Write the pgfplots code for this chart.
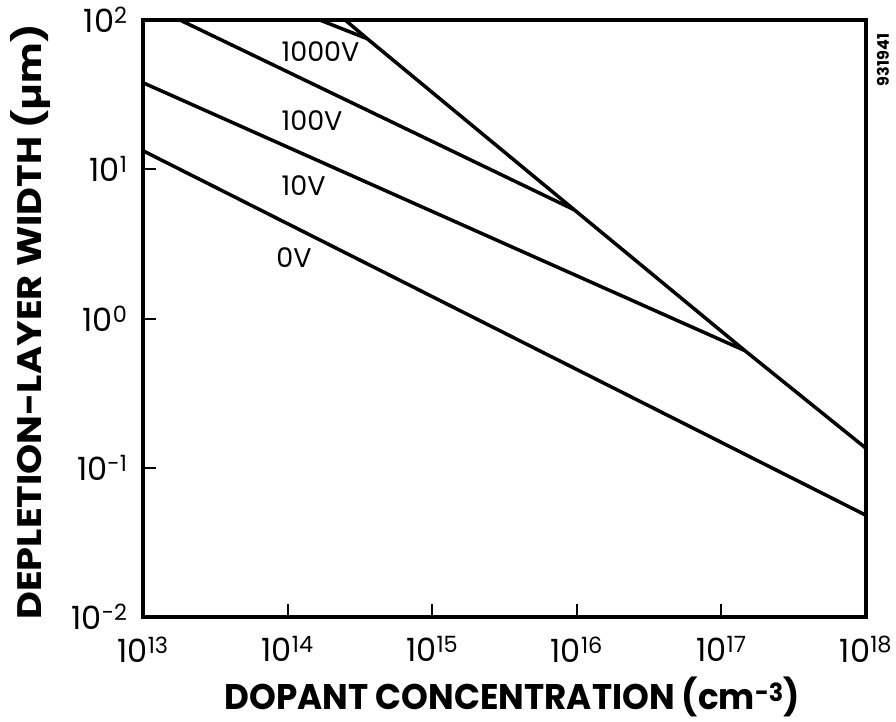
\documentclass[border=0pt]{standalone}
\usepackage{fontspec}
\setmainfont{Poppins}
\usepackage{pgfplots}
\pgfplotsset{compat=1.18}
\begin{document}
\begin{tikzpicture}
\useasboundingbox (-143pt,-104pt) rectangle (753pt,617pt);
\begin{axis}[
  at={(0pt,0pt)}, anchor=south west,
  scale only axis, width=723pt, height=597pt,
  xmode=log, ymode=log,
  xmin=1e13, xmax=1e18, ymin=1e-2, ymax=1e2,
  xtick={1e13,1e14,1e15,1e16,1e17,1e18},
  xticklabels={10\textsuperscript{13},10\textsuperscript{14},10\textsuperscript{15},10\textsuperscript{16},10\textsuperscript{17},10\textsuperscript{18}},
  ytick={1e-2,1e-1,1e0,1e1,1e2},
  yticklabels={10\textsuperscript{-2},10\textsuperscript{-1},10\textsuperscript{0},10\textsuperscript{1},10\textsuperscript{2}},
  xminorticks=false, yminorticks=false,
  tick align=inside, xtick pos=bottom, ytick pos=left,
  major tick length=13pt,
  tick style={line width=2pt, black},
  axis line style={line width=4pt},
  xticklabel style={font=\fontsize{32}{32}\selectfont, yshift=-16pt},
  yticklabel style={font=\fontsize{32}{32}\selectfont, xshift=-12pt},
  clip mode=individual,
]
% 0V
\addplot[black, no marks, line width=3.5pt] coordinates {(1e13,13.3) (1e18,0.0480)};
% 10V
\addplot[black, no marks, line width=3.5pt] coordinates {(1e13,38) (1.45e17,0.61)};
% 100V
\addplot[black, no marks, line width=3.5pt] coordinates {(1.8e13,100) (9.6e15,5.35)};
% 1000V
\addplot[black, no marks, line width=3.5pt] coordinates {(1.67e14,100) (3.55e14,75)};
% breakdown
\addplot[black, no marks, line width=3.5pt] coordinates {(2.5e14,100) (3.55e14,75) (9.6e15,5.35) (1.45e17,0.61) (1e18,0.135)};

\node[anchor=west, font=\fontsize{27}{27}\selectfont] at (axis cs:8.6e13,61) {1000V};
\node[anchor=west, font=\fontsize{27}{27}\selectfont] at (axis cs:8.6e13,21.3) {100V};
\node[anchor=west, font=\fontsize{27}{27}\selectfont] at (axis cs:8.6e13,7.8) {10V};
\node[anchor=west, font=\fontsize{27}{27}\selectfont] at (axis cs:7.9e13,2.56) {0V};

\node[inner sep=0pt, font=\fontsize{42}{42}\selectfont\bfseries] at (axis description cs:0.511,-0.134) {\resizebox*{575pt}{40pt}{DOPANT CONCENTRATION (cm\textsuperscript{-3})}};
\node[inner sep=0pt, rotate=90, font=\fontsize{42}{42}\selectfont\bfseries] at (axis description cs:-0.156,0.494) {\resizebox*{595pt}{40pt}{DEPLETION-LAYER WIDTH (\textmu m)}};
\node[rotate=90, font=\fontsize{16}{16}\selectfont\bfseries] at (axis description cs:1.0235,0.933) {931941};
\end{axis}
\end{tikzpicture}
\end{document}
